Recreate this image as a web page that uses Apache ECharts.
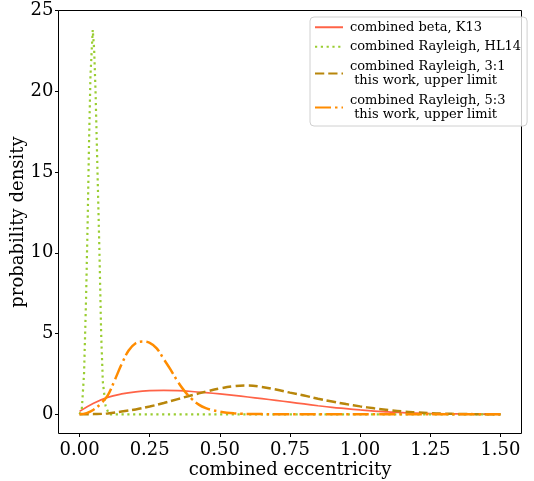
<!DOCTYPE html>
<html>
<head>
<meta charset="utf-8">
<script src="https://cdn.jsdelivr.net/npm/echarts@6/dist/echarts.min.js"></script>
<style>
  html, body { margin: 0; padding: 0; background: #fff; }
  #chart { width: 534px; height: 481px; }
</style>
</head>
<body>
<div id="chart"></div>
<script>
// Probability density of the combined eccentricity for four models.
const xTicks = [0, 0.25, 0.5, 0.75, 1.0, 1.25, 1.5];
const yTicks = [0, 5, 10, 15, 20, 25];

// combined beta, K13
const betaX = [0, 0.05, 0.1, 0.15, 0.2, 0.25, 0.3, 0.35, 0.4, 0.45, 0.5, 0.55, 0.6, 0.65, 0.7, 0.75, 0.8, 0.85, 0.9, 0.95, 1.0, 1.05, 1.1, 1.15, 1.2, 1.25, 1.3, 1.35, 1.4, 1.45, 1.5];
const betaY = [0.18, 0.68, 1.05, 1.26, 1.39, 1.46, 1.48, 1.46, 1.41, 1.34, 1.26, 1.17, 1.07, 0.97, 0.86, 0.75, 0.64, 0.53, 0.43, 0.35, 0.27, 0.20, 0.15, 0.10, 0.07, 0.045, 0.03, 0.02, 0.01, 0.005, 0.0];

// combined Rayleigh, HL14
const hlX = [0, 0.008, 0.016, 0.023, 0.029, 0.034, 0.039, 0.047, 0.052, 0.057, 0.064, 0.071, 0.077, 0.083, 0.093, 0.105, 0.2, 0.5, 1.0, 1.5];
const hlY = [0, 0.3, 2.5, 7.0, 12.0, 17.0, 21.0, 23.8, 22.6, 20.0, 15.0, 10.0, 5.0, 2.0, 0.5, 0, 0, 0, 0, 0];

// combined Rayleigh, 3:1 (upper limit)
const r31X = [0, 0.05, 0.1, 0.15, 0.2, 0.25, 0.3, 0.35, 0.4, 0.45, 0.5, 0.55, 0.6, 0.65, 0.7, 0.75, 0.8, 0.85, 0.9, 0.95, 1.0, 1.05, 1.1, 1.15, 1.2, 1.25, 1.3, 1.35, 1.4, 1.45, 1.5];
const r31Y = [0, 0.01, 0.05, 0.17, 0.30, 0.48, 0.70, 0.94, 1.18, 1.40, 1.60, 1.74, 1.78, 1.69, 1.53, 1.34, 1.16, 0.96, 0.79, 0.63, 0.49, 0.37, 0.27, 0.18, 0.12, 0.07, 0.04, 0.02, 0.01, 0.005, 0.0];

// combined Rayleigh, 5:3 (upper limit)
const r53X = [0, 0.025, 0.05, 0.075, 0.1, 0.125, 0.15, 0.175, 0.2, 0.225, 0.25, 0.275, 0.3, 0.325, 0.35, 0.375, 0.4, 0.425, 0.45, 0.475, 0.5, 0.525, 0.55, 0.575, 0.6, 0.65, 0.7, 0.8, 0.9, 1.0, 1.1, 1.2, 1.3, 1.4, 1.5];
const r53Y = [0, 0.07, 0.28, 0.65, 1.15, 2.1, 3.1, 3.95, 4.4, 4.5, 4.42, 4.08, 3.42, 2.75, 2.02, 1.42, 0.95, 0.6, 0.38, 0.25, 0.16, 0.1, 0.06, 0.035, 0.02, 0.01, 0, 0, 0, 0, 0, 0, 0, 0, 0];

const names = [
  'combined beta, K13',
  'combined Rayleigh, HL14',
  'combined Rayleigh, 3:1\n this work, upper limit',
  'combined Rayleigh, 5:3\n this work, upper limit'
];

const pairs = (xs, ys) => xs.map((x, i) => [x, ys[i]]);
const FONT = 'DejaVu Serif';

const chart = echarts.init(document.getElementById('chart'), null, { renderer: 'canvas' });
chart.setOption({
  animation: false,
  backgroundColor: '#fff',
  grid: {
    left: 58.5, top: 10.5, width: 463, height: 423,
    outerBoundsMode: 'none', containLabel: false,
    show: true, borderColor: '#000', borderWidth: 1, backgroundColor: 'transparent'
  },
  legend: {
    orient: 'vertical', left: 310, top: 17,
    padding: [3, 6, 4, 4],
    itemWidth: 28, itemHeight: 14, itemGap: 5,
    backgroundColor: 'rgba(255,255,255,0.8)',
    borderColor: '#d0d0d0', borderWidth: 1, borderRadius: 4,
    textStyle: { fontFamily: FONT, fontSize: 13, color: '#000', lineHeight: 14.5, padding: [0, 0, 0, 2] },
    itemStyle: { color: 'transparent', borderColor: 'transparent', borderWidth: 0 },
    data: names
  },
  xAxis: {
    type: 'value', min: -0.075, max: 1.575,
    name: 'combined eccentricity', nameLocation: 'middle', nameGap: 28, nameMoveOverlap: false,
    nameTextStyle: { fontFamily: FONT, fontSize: 18, color: '#000' },
    axisLine: { show: false, onZero: false },
    axisTick: { show: true, inside: false, length: 3.5, customValues: xTicks, lineStyle: { color: '#000', width: 1 } },
    axisLabel: { customValues: xTicks, formatter: v => v.toFixed(2), fontFamily: FONT, fontSize: 18, color: '#000', margin: 8 },
    splitLine: { show: false }
  },
  yAxis: {
    type: 'value', min: -1.19, max: 25.0,
    name: 'probability density', nameLocation: 'middle', nameGap: 31, nameRotate: 90, nameMoveOverlap: false,
    nameTextStyle: { fontFamily: FONT, fontSize: 18, color: '#000' },
    axisLine: { show: false, onZero: false },
    axisTick: { show: true, inside: false, length: 3.5, customValues: yTicks, lineStyle: { color: '#000', width: 1 } },
    axisLabel: { customValues: yTicks, formatter: v => String(v), fontFamily: FONT, fontSize: 18, color: '#000', margin: 5 },
    splitLine: { show: false }
  },
  series: [
    { name: names[0], type: 'line', data: pairs(betaX, betaY), symbol: 'none', smooth: 0.4,
      lineStyle: { color: '#ff6347', width: 1.7, type: 'solid' }, itemStyle: { color: '#ff6347' } },
    { name: names[1], type: 'line', data: pairs(hlX, hlY), symbol: 'none', smooth: false,
      lineStyle: { color: '#9acd32', width: 2.2, type: [2.2, 3.6] }, itemStyle: { color: '#9acd32' } },
    { name: names[2], type: 'line', data: pairs(r31X, r31Y), symbol: 'none', smooth: 0.4,
      lineStyle: { color: '#b8860b', width: 2.5, type: [9.25, 4] }, itemStyle: { color: '#b8860b' } },
    { name: names[3], type: 'line', data: pairs(r53X, r53Y), symbol: 'none', smooth: 0.4,
      lineStyle: { color: '#ff8c00', width: 2.5, type: [16, 4, 2.5, 4] }, itemStyle: { color: '#ff8c00' } }
  ]
});
</script>
</body>
</html>
